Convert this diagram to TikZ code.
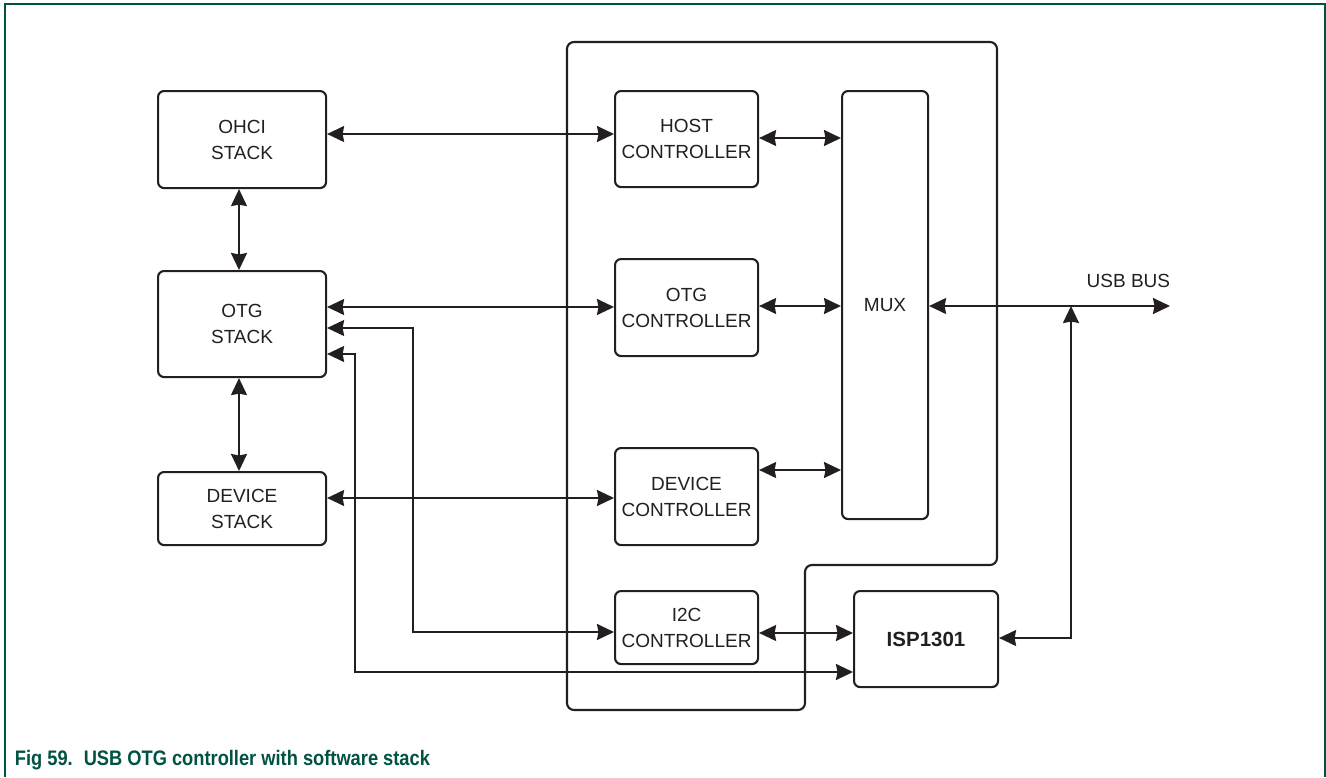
\documentclass[tikz,border=0pt]{standalone}
\usepackage{fontspec}
\setmainfont{Liberation Sans}
\newfontfamily\capfont[FakeStretch=0.87]{Liberation Sans}
\usetikzlibrary{arrows.meta}
\definecolor{ink}{RGB}{35,31,32}
\definecolor{nxpgreen}{RGB}{0,82,66}
\begin{document}
\begin{tikzpicture}[x=1pt,y=-1pt,
  line width=1.8pt, draw=ink, text=ink,
  box/.style={draw=ink, line width=2.1pt, rounded corners=6pt, anchor=north west,
     align=center, inner sep=0pt, font=\fontsize{19}{26}\selectfont},
  biarrow/.style={{Stealth[length=17pt,width=16pt,inset=1.5pt]}-{Stealth[length=17pt,width=16pt,inset=1.5pt]}}
]
\useasboundingbox (0,0) rectangle (1326,777);
% frame
\draw[nxpgreen, line width=2pt] (5,777) -- (5,4) -- (1325,4) -- (1325,777);
% big outline
\draw[line width=2.1pt, rounded corners=7pt] (567,42) -- (997,42) -- (997,565) -- (805,565) -- (805,710) -- (567,710) -- cycle;
% boxes
\node[box, minimum width=168pt, minimum height=97pt] (ohci) at (157,90) {OHCI\\STACK};
\node[box, minimum width=168pt, minimum height=106pt] (otgs) at (157,270) {OTG\\STACK};
\node[box, minimum width=168pt, minimum height=73pt] (devs) at (157,471) {DEVICE\\STACK};
\node[box, minimum width=143pt, minimum height=96pt] (host) at (614,90) {HOST\\CONTROLLER};
\node[box, minimum width=143pt, minimum height=97pt] (otgc) at (614,258) {OTG\\CONTROLLER};
\node[box, minimum width=143pt, minimum height=97pt] (devc) at (614,447) {DEVICE\\CONTROLLER};
\node[box, minimum width=143pt, minimum height=73pt] (i2c) at (614,590) {I2C\\CONTROLLER};
\node[box, minimum width=86pt, minimum height=428pt] (mux) at (841,90) {MUX};
\node[box, minimum width=144pt, minimum height=96pt, font=\fontsize{20.5}{24}\selectfont\bfseries] (isp) at (853,590) {ISP1301};
% coordinates
\coordinate (busend) at (1170,306);
\coordinate (junc) at (1071,306);
\coordinate (bendA) at (413,632);
\coordinate (bendB) at (355,672);
% connectors
\draw[biarrow] (ohci.east |- 0,134) -- (host.west |- 0,134);
\draw[biarrow] (otgs.east |- 0,307) -- (otgc.west |- 0,307);
\draw[biarrow] (devs.east |- 0,498) -- (devc.west |- 0,498);
\draw[biarrow] (ohci.south -| 239,0) -- (otgs.north -| 239,0);
\draw[biarrow] (otgs.south -| 239,0) -- (devs.north -| 239,0);
\draw[biarrow] (host.east |- 0,138) -- (mux.west |- 0,138);
\draw[biarrow] (otgc.east |- 0,306) -- (mux.west |- 0,306);
\draw[biarrow] (devc.east |- 0,470) -- (mux.west |- 0,470);
\draw[biarrow] (mux.east |- 0,306) -- (busend);
\draw[biarrow] (otgs.east |- 0,328) -| (bendA) -- (i2c.west |- bendA);
\draw[biarrow] (otgs.east |- 0,354) -| (bendB) -- (isp.west |- bendB);
\draw[biarrow] (i2c.east |- 0,633) -- (isp.west |- 0,633);
\draw[biarrow] (isp.east |- 0,638) -| (junc);
% labels
\node[anchor=east, inner sep=0pt, font=\fontsize{19}{22}\selectfont] (usb) at (1171,281) {USB BUS};
\node[anchor=base west, inner sep=0pt, text=nxpgreen, font=\capfont\fontsize{21}{24}\selectfont\bfseries] (cap) at (14,765) {Fig 59.\hspace{11pt}USB OTG controller with software stack};
\end{tikzpicture}
\end{document}
